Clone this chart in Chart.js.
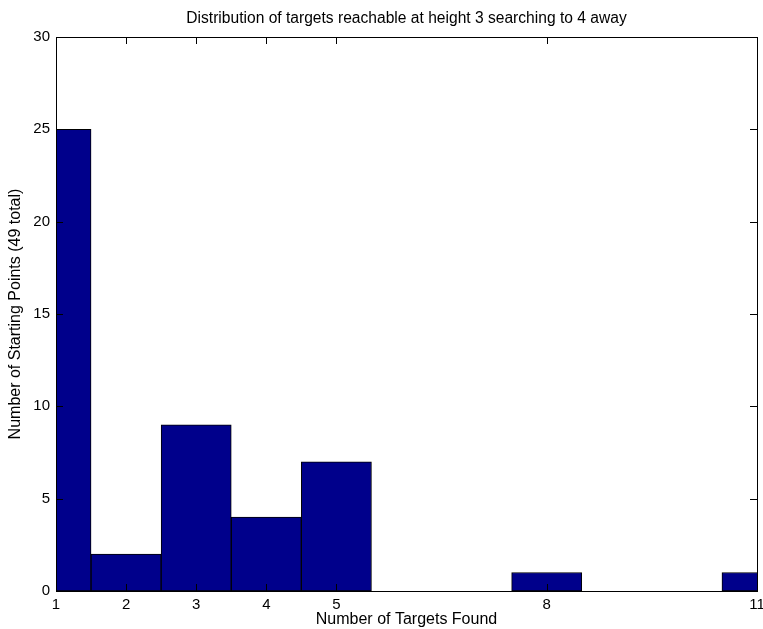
<!DOCTYPE html>
<html>
<head>
<meta charset="utf-8">
<title>Distribution of targets</title>
<script src="https://cdn.jsdelivr.net/npm/chart.js@4"></script>
<style>
    html, body { margin: 0; padding: 0; background: #fff; }
    #wrap { width: 763px; height: 629px; position: relative; }
</style>
</head>
<body>
<div id="wrap"><canvas id="histChart"></canvas></div>
<script>
// Bin centres and counts (49 starting points)
const binCenters = [1, 2, 3, 4, 5, 6, 7, 8, 9, 10, 11];
const counts = [25, 2, 9, 4, 7, 0, 0, 1, 0, 0, 1];
const xTickValues = [1, 2, 3, 4, 5, 8, 11];
const yTickValues = [0, 5, 10, 15, 20, 25, 30];

const FONT = 'Helvetica, Arial, "Liberation Sans", sans-serif';

document.addEventListener('DOMContentLoaded', function() {
    // matlab style box with inward ticks on every side
    const boxTicks = {
        id: 'boxTicks',
        afterDraw(chart) {
            const ctx = chart.ctx;
            const a = chart.chartArea;
            const xs = chart.scales.x;
            const ys = chart.scales.y;
            const len = 7;
            ctx.save();
            ctx.strokeStyle = '#000';
            ctx.lineWidth = 1;
            ctx.beginPath();
            xTickValues.forEach(v => {
                const px = Math.round(xs.getPixelForValue(v)) + 0.5;
                ctx.moveTo(px, a.bottom);
                ctx.lineTo(px, a.bottom - len);
                ctx.moveTo(px, a.top);
                ctx.lineTo(px, a.top + len);
            });
            yTickValues.forEach(v => {
                const py = Math.round(ys.getPixelForValue(v)) + 0.5;
                ctx.moveTo(a.left, py);
                ctx.lineTo(a.left + len, py);
                ctx.moveTo(a.right, py);
                ctx.lineTo(a.right - len, py);
            });
            ctx.stroke();
            ctx.strokeRect(Math.round(a.left) + 0.5, Math.round(a.top) + 0.5,
                Math.round(a.right - a.left), Math.round(a.bottom - a.top));
            ctx.restore();
        }
    };

    const ctx = document.getElementById('histChart').getContext('2d');
    new Chart(ctx, {
        type: 'bar',
        data: {
            datasets: [{
                data: binCenters.map((x, i) => ({ x: x, y: counts[i] })),
                backgroundColor: '#00008b',
                borderColor: '#000',
                borderWidth: 1,
                borderSkipped: false,
                barPercentage: 1,
                categoryPercentage: 1,
                clip: 0
            }]
        },
        options: {
            responsive: true,
            maintainAspectRatio: false,
            animation: false,
            layout: { padding: { left: 0, right: 6, top: 0, bottom: 0 } },
            plugins: {
                legend: { display: false },
                tooltip: { enabled: false },
                title: {
                    display: true,
                    fullSize: false,
                    text: 'Distribution of targets reachable at height 3 searching to 4 away',
                    color: '#000',
                    font: { family: FONT, size: 15.6, weight: 'normal' },
                    padding: { top: 9, bottom: 9.28 }
                }
            },
            scales: {
                x: {
                    type: 'linear',
                    offset: false,
                    min: 1,
                    max: 11,
                    grid: { display: false, drawTicks: false, offset: false },
                    border: { display: false },
                    afterBuildTicks(scale) {
                        scale.ticks = xTickValues.map(v => ({ value: v }));
                    },
                    afterFit(scale) {
                        scale.height = 38;
                        scale.paddingLeft = 0;
                        scale.paddingRight = 0;
                    },
                    ticks: {
                        color: '#000',
                        padding: 5,
                        maxRotation: 0,
                        autoSkip: false,
                        font: { family: FONT, size: 15 }
                    },
                    title: {
                        display: true,
                        text: 'Number of Targets Found',
                        color: '#000',
                        font: { family: FONT, size: 16 },
                        padding: { top: 0, bottom: 0 }
                    }
                },
                y: {
                    min: 0,
                    max: 30,
                    grid: { display: false, drawTicks: false },
                    border: { display: false },
                    afterBuildTicks(scale) {
                        scale.ticks = yTickValues.map(v => ({ value: v }));
                    },
                    afterFit(scale) {
                        scale.width = 56;
                    },
                    ticks: {
                        color: '#000',
                        padding: 6,
                        font: { family: FONT, size: 15 }
                    },
                    title: {
                        display: true,
                        text: 'Number of Starting Points (49 total)',
                        color: '#000',
                        font: { family: FONT, size: 16 },
                        padding: { top: 6.4, bottom: 0 }
                    }
                }
            }
        },
        plugins: [boxTicks]
    });
});
</script>
</body>
</html>
